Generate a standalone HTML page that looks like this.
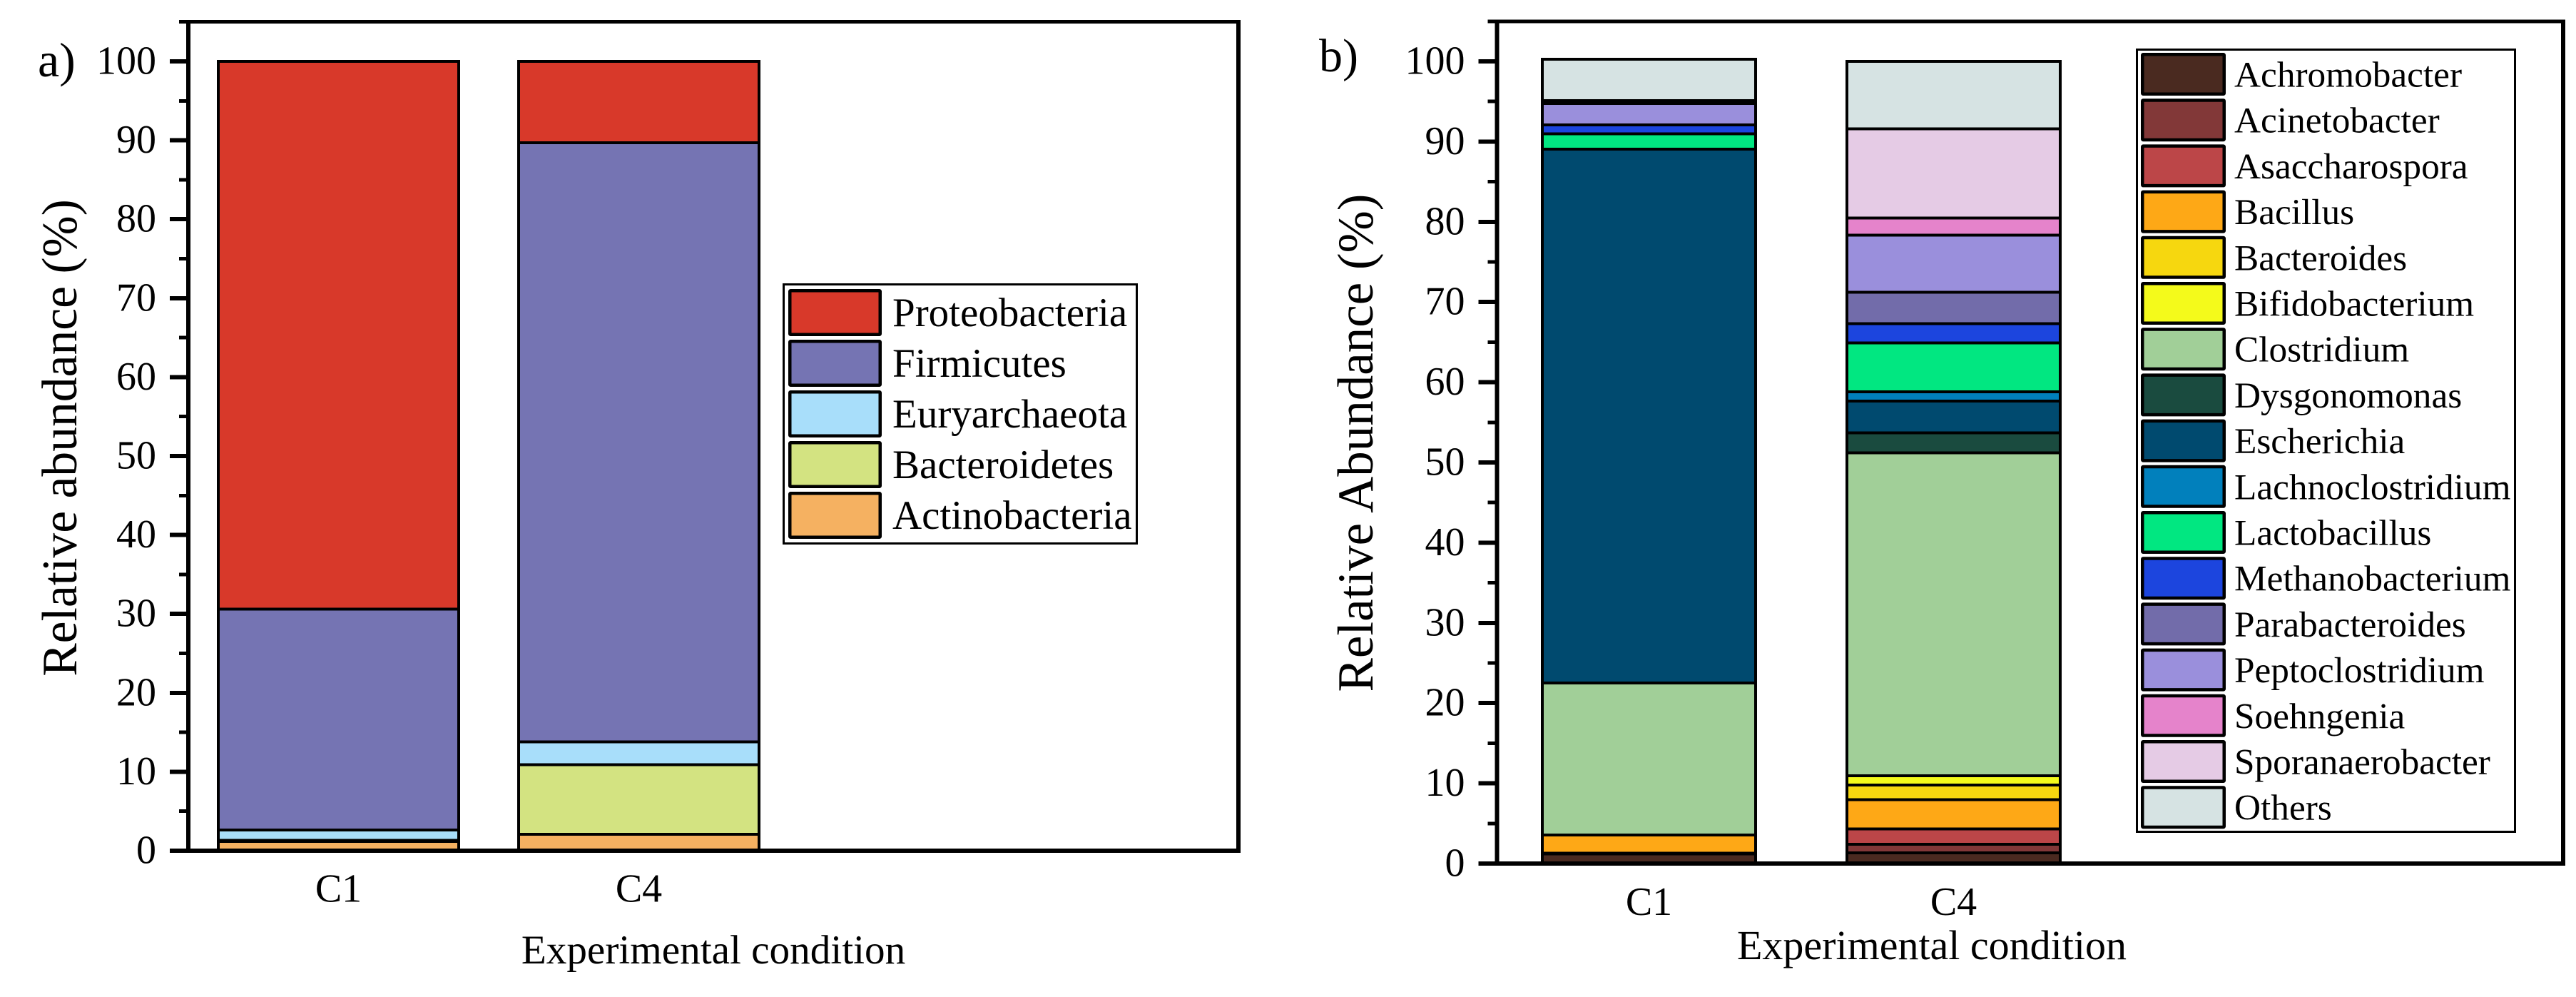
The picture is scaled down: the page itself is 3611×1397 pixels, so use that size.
<!DOCTYPE html>
<html lang="en">
<head>
<meta charset="utf-8">
<title>Relative abundance of microbial communities</title>
<style>
  html, body { margin: 0; padding: 0; background: #fff; }
  svg { display: block; }
  text { font-family: "Liberation Serif", "Times New Roman", serif; fill: #000; }
</style>
</head>
<body>
<svg id="figure" xmlns="http://www.w3.org/2000/svg" width="3611" height="1397" viewBox="0 0 3611 1397">
  <rect x="0" y="0" width="3611" height="1397" fill="#ffffff"/>
  <text x="53" y="107" font-size="68">a)</text>
  <text x="1849" y="100" font-size="66">b)</text>
  <text transform="translate(107 613.5) rotate(-90)" text-anchor="middle" font-size="69.6">Relative abundance (%)</text>
  <text transform="translate(1924 620.5) rotate(-90)" text-anchor="middle" font-size="71">Relative Abundance (%)</text>
  <text x="1000" y="1350" text-anchor="middle" font-size="57.2">Experimental condition</text>
  <text x="2708" y="1344" text-anchor="middle" font-size="58">Experimental condition</text>
  <g id="panel-a"></g>
  <g id="panel-b"></g>
</svg>
<script>
// Shared axis data
const conditions = ['C1', 'C4'];
const majorTicks = [0, 10, 20, 30, 40, 50, 60, 70, 80, 90, 100];
const minorTicks = [5, 15, 25, 35, 45, 55, 65, 75, 85, 95, 105];
const axisMax = 105;

// Panel a: series listed bottom-to-top of the stack
const phylaNames = ['Actinobacteria', 'Bacteroidetes', 'Euryarchaeota', 'Firmicutes', 'Proteobacteria'];
const phylaC1 = [1.18, 0.15, 1.29, 27.98, 69.4];
const phylaC4 = [2.08, 8.82, 2.9, 75.9, 10.3];
const phylaColors = ['#F5B161', '#D3E381', '#A8DEFA', '#7574B3', '#D8392A'];

// Panel b: series listed bottom-to-top of the stack
const generaNames = ['Achromobacter', 'Acinetobacter', 'Asaccharospora', 'Bacillus', 'Bacteroides', 'Bifidobacterium', 'Clostridium', 'Dysgonomonas', 'Escherichia', 'Lachnoclostridium', 'Lactobacillus', 'Methanobacterium', 'Parabacteroides', 'Peptoclostridium', 'Soehngenia', 'Sporanaerobacter', 'Others'];
const generaC1 = [1.2, 0.09, 0, 2.27, 0, 0, 18.94, 0, 66.56, 0, 1.91, 1.11, 0, 2.67, 0, 0.35, 5.17];
const generaC4 = [1.33, 1.07, 1.91, 3.65, 1.83, 1.15, 40.26, 2.49, 3.96, 1.16, 6.09, 2.4, 3.92, 7.11, 2.14, 11.13, 8.4];
const generaColors = ['#4A2A20', '#823838', '#BC4648', '#FEA816', '#F6D70F', '#F4FA1B', '#A1CF98', '#1A4B3F', '#004A6F', '#0180BC', '#01E781', '#1C45DE', '#726CAA', '#9A8FDC', '#E583CB', '#E5CBE5', '#D6E3E3'];

const NS = 'http://www.w3.org/2000/svg';

function el(parent, tag, attrs, text) {
  const node = document.createElementNS(NS, tag);
  for (const key in attrs) node.setAttribute(key, attrs[key]);
  if (text !== undefined) node.textContent = text;
  parent.appendChild(node);
  return node;
}

function slug(s) {
  return s.toLowerCase().replace(/[^a-z0-9]+/g, '-');
}

function drawPanel(root, cfg) {
  const yScale = v => cfg.y0 - v * cfg.unit;
  const xScale = i => cfg.x0 + i * cfg.step;

  // Bars
  cfg.stacks.forEach((values, c) => {
    const group = el(root, 'g', {});
    
    
    let cumulative = 0;
    values.forEach((value, s) => {
      if (value <= 0) return;
      const top = yScale(cumulative + value);
      const bottom = yScale(cumulative);
      const seg = el(group, 'rect', {
        x: xScale(c) - cfg.barWidth / 2,
        y: top,
        width: cfg.barWidth,
        height: bottom - top,
        fill: cfg.colors[s],
        stroke: '#000',
        'stroke-width': 4,
        'shape-rendering': 'crispEdges'
      });
      
      
      cumulative += value;
    });
  });

  // Frame
  const axisTop = yScale(axisMax);
  const lines = [
    ['left-axis-line', cfg.left, axisTop - 2.5, cfg.left, cfg.y0 + 3, 6],
    ['right-axis-line', cfg.right, axisTop - 2.5, cfg.right, cfg.y0 + 3, 6],
    ['top-axis-line', cfg.left, axisTop, cfg.right + 3, axisTop, 5],
    ['x-axis-line', cfg.left, cfg.y0, cfg.right + 3, cfg.y0, 6]
  ];
  lines.forEach(d => {
    const line = el(root, 'line', { x1: d[1], y1: d[2], x2: d[3], y2: d[4], stroke: '#000', 'stroke-width': d[5], 'shape-rendering': 'crispEdges' });
    
    
  });

  // Ticks
  majorTicks.forEach(t => {
    const tick = el(root, 'line', { x1: cfg.left - 26, x2: cfg.left, y1: yScale(t), y2: yScale(t), stroke: '#000', 'stroke-width': 6, 'shape-rendering': 'crispEdges' });
    
    
    const label = el(root, 'text', { x: cfg.left - 45, y: yScale(t) + 17.5, 'text-anchor': 'end', 'font-size': 56 }, String(t));
    
    
  });
  minorTicks.forEach(t => {
    const tick = el(root, 'line', { x1: cfg.left - 13, x2: cfg.left, y1: yScale(t), y2: yScale(t), stroke: '#000', 'stroke-width': 5, 'shape-rendering': 'crispEdges' });
    
    
  });

  // Category labels
  conditions.forEach((name, c) => {
    const label = el(root, 'text', { x: xScale(c), y: cfg.catBaseline, 'text-anchor': 'middle', 'font-size': 56 }, name);
    
    
  });

  // Legend
  const lg = cfg.legend;
  const legendGroup = el(root, 'g', {});
  
  
  const box = el(legendGroup, 'rect', { x: lg.x + 1.5, y: lg.y + 1.5, width: lg.w - 3, height: lg.h - 3, fill: '#fff', stroke: '#000', 'stroke-width': 3, 'shape-rendering': 'crispEdges' });
  
  
  lg.order.forEach((s, row) => {
    const top = lg.swatchY + row * lg.rowStep;
    const swatch = el(legendGroup, 'rect', {
      x: lg.swatchX + 2.25, y: top + 2.25,
      width: lg.swatchW - 4.5, height: lg.swatchH - 4.5,
      rx: 1, fill: cfg.colors[s], stroke: '#000', 'stroke-width': 4.5
    });
    
    
    const label = el(legendGroup, 'text', { x: lg.textX, y: top + lg.baseOffset, 'font-size': lg.fontSize }, cfg.names[s]);
    
    
  });
}

drawPanel(document.getElementById('panel-a'), {
  names: phylaNames, colors: phylaColors, stacks: [phylaC1, phylaC4],
  y0: 1192, unit: 11.06, x0: 474.5, step: 421, barWidth: 337,
  left: 264, right: 1736, catBaseline: 1263.5,
  legend: {
    order: phylaNames.map((_, i) => phylaNames.length - 1 - i),
    x: 1097, y: 397, w: 498, h: 366,
    swatchX: 1105, swatchY: 405, swatchW: 131, swatchH: 66, rowStep: 71,
    textX: 1251, baseOffset: 52, fontSize: 57
  }
});

drawPanel(document.getElementById('panel-b'), {
  names: generaNames, colors: generaColors, stacks: [generaC1, generaC4],
  y0: 1210, unit: 11.24, x0: 2311.5, step: 427, barWidth: 299,
  left: 2098.5, right: 3593, catBaseline: 1282,
  legend: {
    order: generaNames.map((_, i) => i),
    x: 2994, y: 68, w: 533, h: 1099,
    swatchX: 3001, swatchY: 74, swatchW: 119, swatchH: 60, rowStep: 64.2,
    textX: 3132, baseOffset: 47.5, fontSize: 51.3
  }
});
</script>
</body>
</html>
